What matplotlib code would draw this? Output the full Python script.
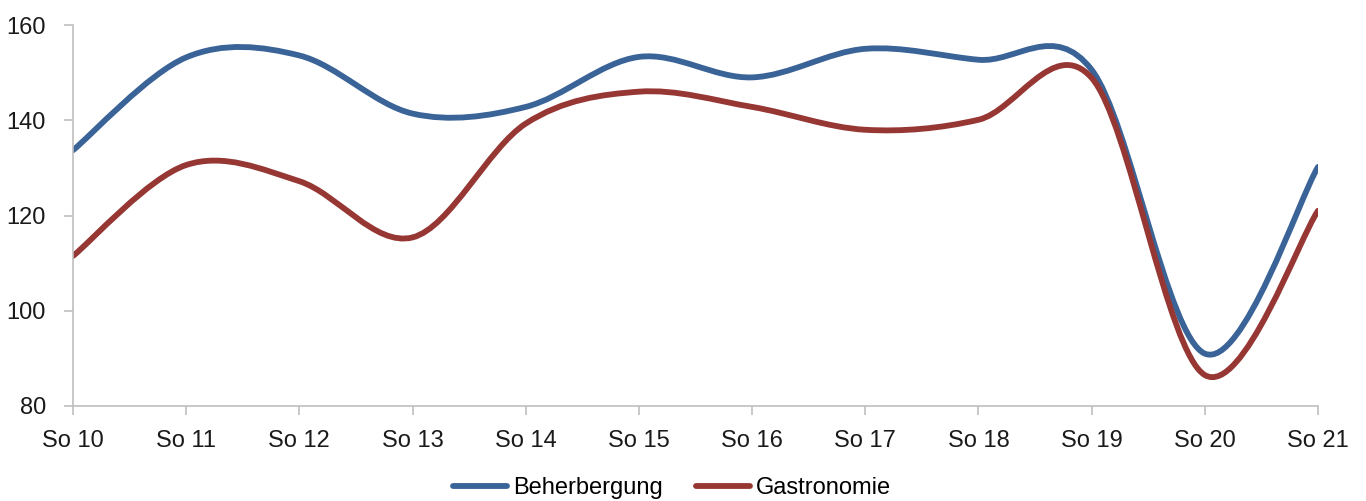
import numpy as np
import matplotlib
matplotlib.use("Agg")
import matplotlib.pyplot as plt
from matplotlib.path import Path
from matplotlib.patches import PathPatch
from matplotlib.lines import Line2D

plt.rcParams["font.family"] = ["Liberation Sans", "DejaVu Sans"]

periods = ["So 10", "So 11", "So 12", "So 13", "So 14", "So 15",
           "So 16", "So 17", "So 18", "So 19", "So 20", "So 21"]
beherbergung = [133.7, 153.2, 153.6, 141.4, 142.8, 153.3,
                149.0, 155.0, 152.7, 150.6, 91.0, 130.2]
gastronomie = [111.5, 130.6, 127.2, 115.4, 139.3, 146.0,
               142.8, 138.0, 140.1, 148.9, 86.5, 121.0]

blue = "#3A6397"
red = "#963734"
grey = "#BFBFBF"


def smooth_path(xs, ys):
    # Excel-like smoothed line: cubic bezier through every point
    pts = np.column_stack([xs, ys]).astype(float)
    padded = np.vstack([pts[0], pts, pts[-1]])
    verts = [pts[0]]
    codes = [Path.MOVETO]
    for i in range(len(pts) - 1):
        p0, p1, p2, p3 = padded[i], padded[i + 1], padded[i + 2], padded[i + 3]
        c1 = p1 + (p2 - p0) / 6.0
        c2 = p2 - (p3 - p1) / 6.0
        verts += [c1, c2, p2]
        codes += [Path.CURVE4] * 3
    return Path(verts, codes)


fig = plt.figure(figsize=(13.66, 5.01), dpi=100)
ax = fig.add_axes([73 / 1366, 95 / 501, 1245 / 1366, 381 / 501])

x = np.arange(len(periods))
for values, color in [(beherbergung, blue), (gastronomie, red)]:
    ax.add_patch(PathPatch(smooth_path(x, values), facecolor="none",
                           edgecolor=color, lw=4.2, capstyle="round",
                           joinstyle="round"))

ax.set_xlim(0, len(periods) - 1)
ax.set_ylim(80, 160)
ax.set_yticks([80, 100, 120, 140, 160])
ax.set_xticks(x)
ax.set_xticklabels(periods)

for side in ["top", "right"]:
    ax.spines[side].set_visible(False)
for side in ["left", "bottom"]:
    ax.spines[side].set_color(grey)
    ax.spines[side].set_linewidth(1.2)
ax.tick_params(axis="both", color=grey, width=1.2, length=6.5,
               labelsize=17, labelcolor="#1a1a1a")
ax.tick_params(axis="x", pad=11)
ax.tick_params(axis="y", pad=13)

handles = [Line2D([], [], color=blue, lw=4.2, solid_capstyle="round"),
           Line2D([], [], color=red, lw=4.2, solid_capstyle="round")]
fig.legend(handles, ["Beherbergung", "Gastronomie"], loc="center",
           bbox_to_anchor=(672 / 1366, 1 - 488 / 501), ncol=2, frameon=False,
           fontsize=17, handlelength=2.3, handletextpad=0.25,
           columnspacing=1.4, borderpad=0)

fig.savefig("out.png", dpi=100)
